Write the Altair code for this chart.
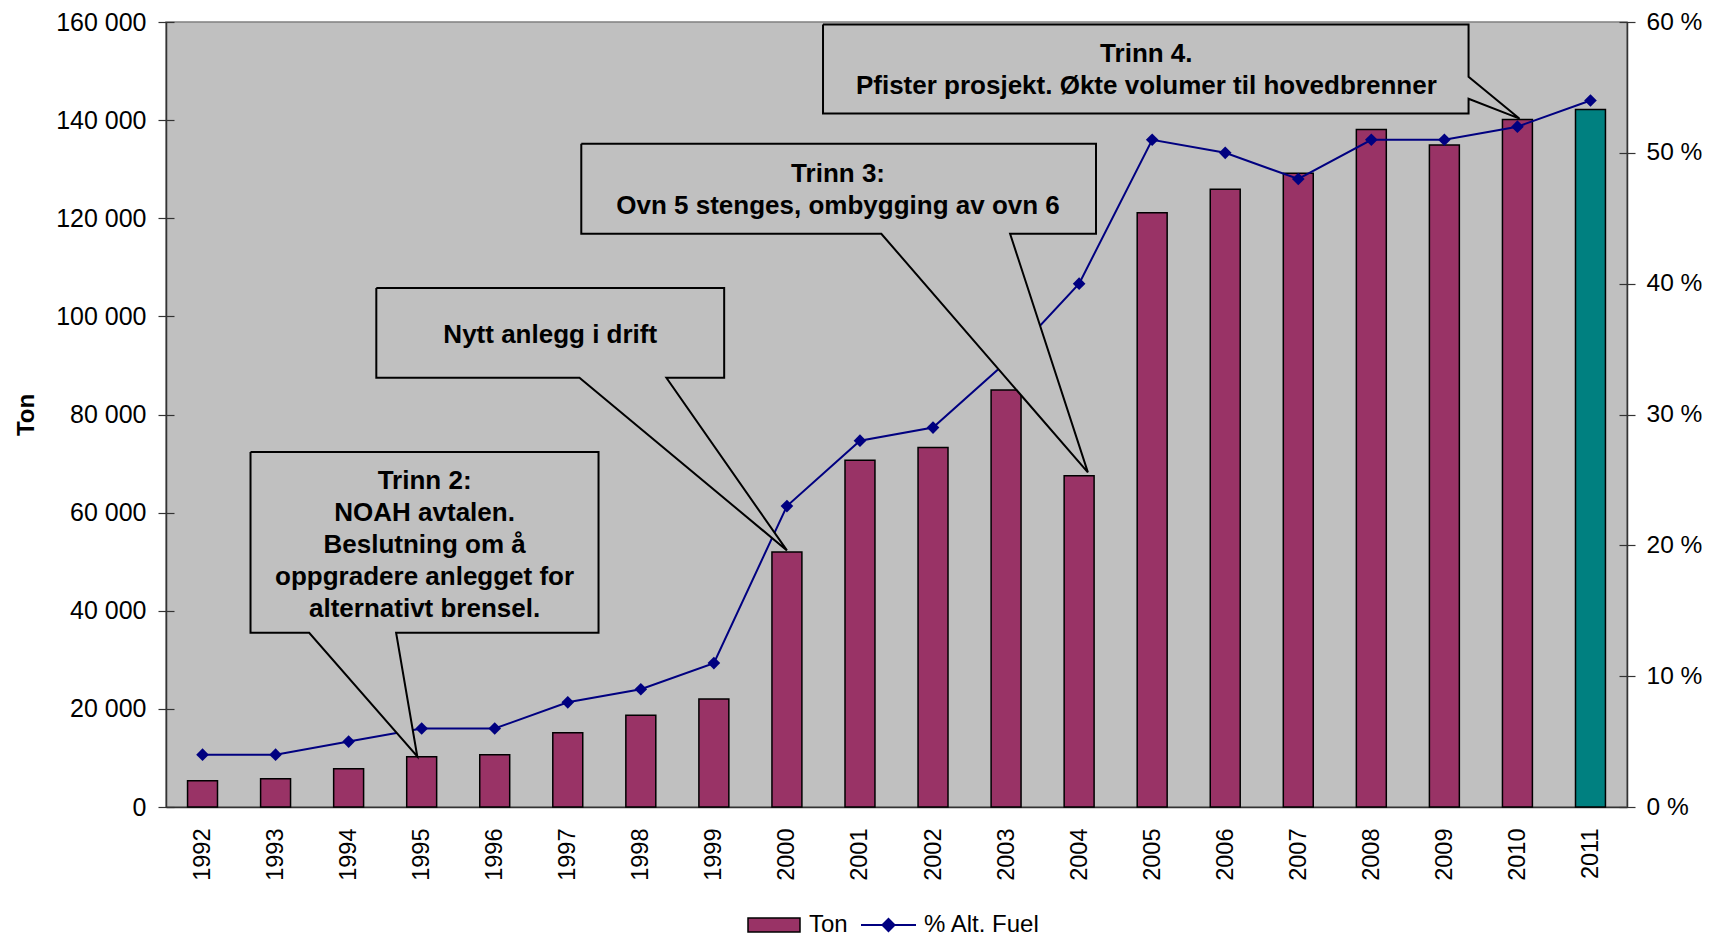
import altair as alt
import pandas as pd

# ---- data ----
years = list(range(1992, 2012))
ton = [5350, 5760, 7790, 10230, 10630, 15110, 18700, 22020, 51980, 70690,
       73250, 84980, 67500, 121100, 125900, 129160, 138100, 134930, 140140, 142170]
pct = [4, 4, 5, 6, 6, 8, 9, 11, 23, 28, 29, 34, 40, 51, 50, 48, 51, 51, 52, 54]

y_ticks = list(range(0, 160001, 20000))
pct_ticks = list(range(0, 61, 10))

# ---- callout annotations (in data coordinates: year, ton) ----
callout_shapes = {
    "c1": [(1992.657, 72375), (1997.421, 72375), (1997.421, 35516), (1994.65, 35516),
           (1994.94, 10300), (1993.46, 35516), (1992.657, 35516), (1992.657, 72375)],
    "c2": [(1994.379, 105777), (1999.141, 105777), (1999.141, 87480), (1998.35, 87480),
           (2000.0, 52300), (1997.16, 87480), (1994.379, 87480), (1994.379, 105777)],
    "c3": [(1997.185, 135195), (2004.231, 135195), (2004.231, 116837), (2003.055, 116837),
           (2004.12, 68200), (2001.292, 116837), (1997.185, 116837), (1997.185, 135195)],
    "c4": [(2000.494, 159500), (2009.331, 159500), (2009.331, 148816), (2010.03, 140300),
           (2009.331, 144343), (2009.331, 141354), (2000.494, 141354), (2000.494, 159500)],
}
# (x, y of first line, text)
callout_text = [
    (1995.04, 66500, "Trinn 2:\nNOAH avtalen.\nBeslutning om å\noppgradere anlegget for\nalternativt brensel."),
    (1996.76, 96300, "Nytt anlegg i drift"),
    (2000.70, 129000, "Trinn 3:\nOvn 5 stenges, ombygging av ovn 6"),
    (2004.92, 153450, "Trinn 4.\nPfister prosjekt. Økte volumer til hovedbrenner"),
]

df = pd.DataFrame({"year": years, "ton": ton, "pct": pct})
df["s1"] = "Ton"
df["s2"] = "% Alt. Fuel"

rows = []
for cid, pts in callout_shapes.items():
    for k, (cx, cy) in enumerate(pts):
        rows.append({"cid": cid, "k": k, "cx": cx, "cy": cy})
df_call = pd.DataFrame(rows)
df_text = pd.DataFrame([{"tx": a, "ty": b, "label": t} for a, b, t in callout_text])

FONT = "Liberation Sans"
DARK = "#333333"
PLOT_W, PLOT_H = 1461, 785

xs = alt.Scale(domain=[1991.5, 2011.5], nice=False, zero=False)
xaxis = alt.Axis(values=years, format="d", labelAngle=-90, labelFontSize=23.5,
                 labelPadding=21, ticks=False, grid=False, title=None,
                 domainColor=DARK, domainWidth=1.5, labelFlush=False,
                 labelOverlap=False, labelColor="black")
ton_scale = alt.Scale(domain=[0, 160000], nice=False, zero=True)
pct_scale = alt.Scale(domain=[0, 60], nice=False, zero=True)

# labelled axes: ticks crossing the axis line (offset inward, double length)
yleft = alt.Axis(values=y_ticks, labelExpr="replace(format(datum.value, ','), ',', ' ')",
                 labelFontSize=25, tickSize=16, offset=-8, labelPadding=12, tickColor=DARK,
                 tickWidth=1.2, domain=False, grid=False, title="Ton",
                 titleFontSize=24, titleFontWeight="bold", titleX=-148, titleY=PLOT_H / 2,
                 titleAlign="center", titleBaseline="middle", titleAngle=270,
                 labelColor="black", titleColor="black")
yright = alt.Axis(values=pct_ticks, labelExpr="datum.value + ' %'", orient="right",
                  labelFontSize=24.5, tickSize=16, offset=-8, labelPadding=11, tickColor=DARK,
                  tickWidth=1.2, domain=False, grid=False, title=None, labelColor="black")
# axis lines only
yleft_line = alt.Axis(orient="left", domain=True, domainColor=DARK, domainWidth=1.5,
                      ticks=False, labels=False, grid=False, title=None)
yright_line = alt.Axis(orient="right", domain=True, domainColor=DARK, domainWidth=1.5,
                       ticks=False, labels=False, grid=False, title=None)

bars = alt.Chart(df).transform_calculate(
    x0="datum.year - 0.205", x1="datum.year + 0.205", base="0"
).mark_bar(stroke="black", strokeWidth=1.5).encode(
    x=alt.X("x0:Q", scale=xs, axis=xaxis),
    x2="x1:Q",
    y=alt.Y("ton:Q", scale=ton_scale, axis=yleft),
    y2="base:Q",
    fill=alt.Fill("s1:N", condition={"test": "datum.year == 2011", "value": "#008080"},
                  scale=alt.Scale(domain=["Ton"], range=["#993366"]),
                  legend=alt.Legend(orient="none", legendX=581, legendY=876, title=None,
                                    symbolType="M-1,-0.27H1V0.27H-1Z", symbolSize=2704,
                                    symbolStrokeColor="black", symbolStrokeWidth=1.5,
                                    labelFontSize=24, labelOffset=8, padding=0,
                                    labelColor="black")),
)

line = alt.Chart(df).mark_line(strokeWidth=2).encode(
    x=alt.X("year:Q", scale=xs, axis=xaxis),
    y=alt.Y("pct:Q", scale=pct_scale, axis=yright),
    stroke=alt.Stroke("s2:N", scale=alt.Scale(domain=["% Alt. Fuel"], range=["#000080"]),
                      legend=alt.Legend(orient="none", legendX=694, legendY=874.5, title=None,
                                        symbolType="M-1,0H1M0,-0.22L0.22,0L0,0.22L-0.22,0Z",
                                        symbolSize=3025, symbolStrokeWidth=2,
                                        symbolFillColor="#000080",
                                        labelFontSize=24, labelOffset=7, padding=0,
                                        labelColor="black")),
)

points = alt.Chart(df).mark_point(shape="diamond", filled=True, size=160, color="#000080", opacity=1).encode(
    x=alt.X("year:Q", scale=xs, axis=xaxis),
    y=alt.Y("pct:Q", scale=pct_scale, axis=yright_line),
)

callouts = alt.Chart(df_call).mark_line(fill="#C0C0C0", stroke="black", strokeWidth=2,
                                        strokeJoin="miter").encode(
    x=alt.X("cx:Q", scale=xs, axis=xaxis),
    y=alt.Y("cy:Q", scale=ton_scale, axis=yleft_line),
    detail="cid:N",
    order="k:Q",
)

texts = alt.Chart(df_text).mark_text(lineBreak="\n", lineHeight=32, fontWeight="bold",
                                     fontSize=26, align="center", baseline="middle",
                                     color="black", font=FONT).encode(
    x=alt.X("tx:Q", scale=xs, axis=xaxis),
    y=alt.Y("ty:Q", scale=ton_scale, axis=None),
    text="label:N",
)

chart = alt.layer(bars, line, points, callouts, texts).resolve_scale(
    y="independent"
).properties(
    width=PLOT_W, height=PLOT_H,
    padding={"left": 158, "top": 14, "right": 75, "bottom": 129},
    autosize=alt.AutoSizeParams(type="none"),
).configure(font=FONT).configure_view(fill="#C0C0C0", stroke="#808080", strokeWidth=1.5)

chart.save("out.html", embed_options={"renderer": "svg", "actions": False})
